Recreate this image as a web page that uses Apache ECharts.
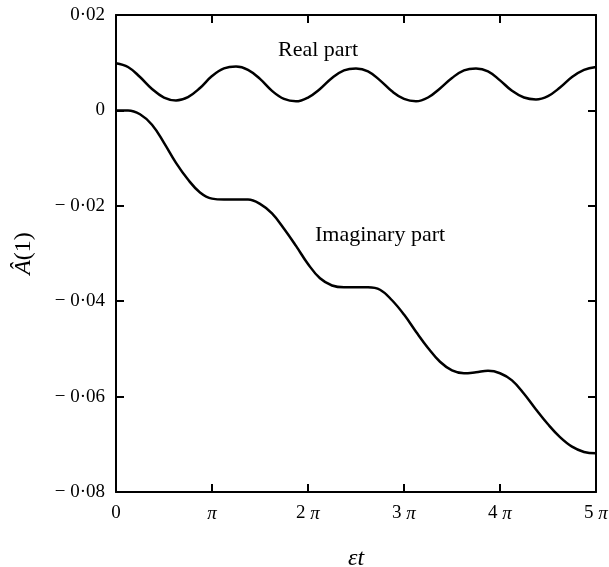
<!DOCTYPE html>
<html>
<head>
<meta charset="utf-8">
<script src="https://cdn.jsdelivr.net/npm/echarts@6/dist/echarts.min.js"></script>
<style>
  html, body { margin: 0; padding: 0; background: #fff; }
  #chart { width: 609px; height: 567px; }
</style>
</head>
<body>
<div id="chart"></div>
<script>
// epsilon*t in units of pi
const tPi = [0, 0.125, 0.25, 0.375, 0.5, 0.625, 0.75, 0.875, 1, 1.125, 1.25, 1.375, 1.5, 1.625, 1.75, 1.875,
  2, 2.125, 2.25, 2.375, 2.5, 2.625, 2.75, 2.875, 3, 3.125, 3.25, 3.375, 3.5, 3.625, 3.75, 3.875,
  4, 4.125, 4.25, 4.375, 4.5, 4.625, 4.75, 4.875, 5];

const realPart = [0.0099, 0.0091, 0.0070, 0.0045, 0.0027, 0.0021, 0.0028, 0.0047, 0.0072, 0.0088, 0.0092, 0.0085,
  0.0066, 0.0041, 0.0024, 0.0019, 0.0027, 0.0045, 0.0068, 0.0084, 0.0088, 0.0082, 0.0063, 0.0040,
  0.0024, 0.0019, 0.0027, 0.0046, 0.0068, 0.0084, 0.0088, 0.0082, 0.0063, 0.0041, 0.0027, 0.0023,
  0.0030, 0.0048, 0.0070, 0.0085, 0.0091];

const imagPart = [0.0000, 0.0000, -0.0008, -0.0030, -0.0068, -0.0110, -0.0145, -0.0172, -0.0185, -0.0187, -0.0187,
  -0.0187, -0.0196, -0.0216, -0.0248, -0.0284, -0.0322, -0.0352, -0.0367, -0.0371, -0.0371, -0.0371,
  -0.0376, -0.0398, -0.0428, -0.0464, -0.0498, -0.0527, -0.0545, -0.0551, -0.0549, -0.0546, -0.0551,
  -0.0566, -0.0594, -0.0627, -0.0658, -0.0685, -0.0705, -0.0716, -0.0719];

const yTicks = [-0.08, -0.06, -0.04, -0.02, 0, 0.02];

const serif = '"Liberation Serif", "DejaVu Serif", serif';

function piLabel(v) {
  if (v === 0) return '0';
  if (v === 1) return '{p|π}';
  return v + ' {p|π}';
}

function yLabel(v) {
  if (Math.abs(v) < 1e-9) return '0';
  const s = Math.abs(v).toFixed(2).replace('.', '·');
  return v < 0 ? '− ' + s : s;
}

const chart = echarts.init(document.getElementById('chart'));

const axisLine = { show: true, onZero: false, lineStyle: { color: '#000', width: 2 } };
const tick = { show: true, inside: true, length: 8, lineStyle: { color: '#000', width: 2 } };

const option = {
  backgroundColor: '#fff',
  animation: false,
  grid: { left: 116, right: 13, top: 15, bottom: 75, outerBoundsMode: 'none' },
  xAxis: [
    {
      type: 'value', min: 0, max: 5, interval: 1,
      axisLine: axisLine, axisTick: tick, splitLine: { show: false },
      axisLabel: {
        formatter: piLabel, color: '#000', fontFamily: serif, fontSize: 19, margin: 12,
        rich: { p: { fontFamily: serif, fontStyle: 'italic', fontSize: 19, color: '#000' } }
      },
      name: 'εt', nameLocation: 'middle', nameGap: 55,
      nameTextStyle: { fontFamily: serif, fontStyle: 'italic', fontSize: 24, color: '#000' }
    },
    {
      type: 'value', position: 'top', min: 0, max: 5, interval: 1,
      axisLine: axisLine, axisTick: tick, axisLabel: { show: false }, splitLine: { show: false }
    }
  ],
  yAxis: [
    {
      type: 'value', min: yTicks[0], max: yTicks[yTicks.length - 1], interval: 0.02,
      axisLine: axisLine, axisTick: tick, splitLine: { show: false },
      axisLabel: { formatter: yLabel, color: '#000', fontFamily: serif, fontSize: 19, margin: 11 },
      name: '{a|Â}(1)', nameLocation: 'middle', nameGap: 80, nameRotate: 90,
      nameTextStyle: {
        fontFamily: serif, fontSize: 24, color: '#000',
        rich: { a: { fontFamily: serif, fontStyle: 'italic', fontSize: 24, color: '#000' } }
      }
    },
    {
      type: 'value', position: 'right', min: yTicks[0], max: yTicks[yTicks.length - 1], interval: 0.02,
      axisLine: axisLine, axisTick: tick, axisLabel: { show: false }, splitLine: { show: false }
    }
  ],
  graphic: [
    { type: 'text', left: 278, top: 39, style: { text: 'Real part', font: '22px ' + serif, fill: '#000' } },
    { type: 'text', left: 315, top: 224, style: { text: 'Imaginary part', font: '22px ' + serif, fill: '#000' } }
  ],
  series: [
    {
      name: 'Real part', type: 'line', smooth: 0.4, symbol: 'none',
      lineStyle: { color: '#000', width: 2.5 },
      data: tPi.map((t, i) => [t, realPart[i]])
    },
    {
      name: 'Imaginary part', type: 'line', smooth: 0.4, symbol: 'none',
      lineStyle: { color: '#000', width: 2.5 },
      data: tPi.map((t, i) => [t, imagPart[i]])
    }
  ]
};

chart.setOption(option);
</script>
</body>
</html>
